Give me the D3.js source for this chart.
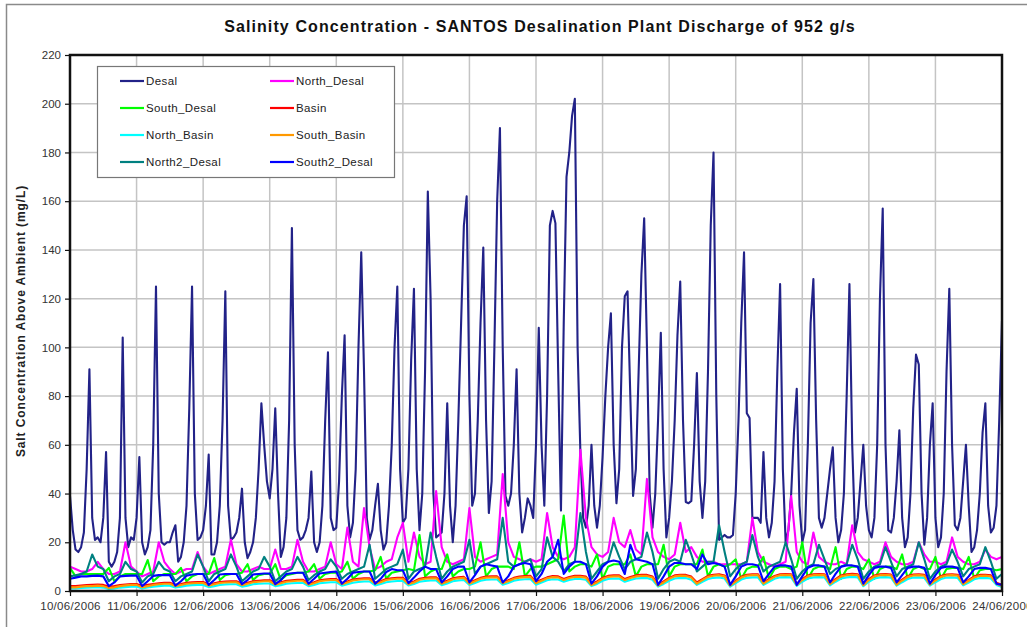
<!DOCTYPE html>
<html>
<head>
<meta charset="utf-8">
<script src="https://cdn.jsdelivr.net/npm/d3@7"></script>
<style>
  body { margin: 0; background: #fff; }
  svg { display: block; font-family: "Liberation Sans", Arial, sans-serif; }
</style>
</head>
<body>
<svg id="chart" width="1027" height="627"></svg>
<script>
// Salinity above ambient (mg/L) at each monitoring point, SANTOS desal plant discharge 952 g/s.
const chartTitle = "Salinity Concentration - SANTOS Desalination Plant Discharge of 952 g/s";
const yAxisTitle = "Salt Concentration Above Ambient (mg/L)";
const startTime = "2006-06-10T00:00:00Z";

const seriesNames = ["Desal", "North_Desal", "South_Desal", "Basin", "North_Basin", "South_Basin", "North2_Desal", "South2_Desal"];
const seriesColors = ["#222288", "#ff00ff", "#00ff00", "#ff0000", "#00ffff", "#ff9900", "#008080", "#0000ff"];
// sampling interval (hours) of each record
const seriesStepHours = [1, 2, 2, 2, 2, 2, 2, 2];

// Desal: hourly, one row per day
const desal = [
  39,25,17,16,18,24,50,91,30,21,22,20,30,57,12,10,12,16,30,104,30,18,22,21,
  30,55,20,15,18,25,60,125,40,20,19,20,20,24,27,12,14,20,35,75,125,40,21,22,
  25,35,56,15,15,20,35,70,123,35,21,22,24,30,42,20,13.5,16,20,30,50,77,60,45,
  38,50,75,40,14,18,30,70,149,60,25,21,22,25,30,49,20,16,20,35,70,98,30,25,
  26,45,80,105,35,22,28,50,100,139,90,30,21,25,35,44,25,17,20,35,60,100,125,50,
  28,30,50,95,124,50,25,40,90,164,120,40,22,23,24,40,77,35,20,35,70,110,150,162,
  80,35,40,70,110,141,70,32,45,100,160,190,100,39,35,40,60,91,40,24,30,38,35,30,
  60,108,60,35,80,150,156,151,90,33,110,170,180,195,202,100,57,30,26,35,60,35,26,35,
  55,80,100,114,60,36,50,100,121,123,80,39,50,90,130,153,100,40,26,40,70,106,50,22,
  30,45,70,105,127,70,36.5,36,37,60,89.5,45,30,45,90,150,180,80,21,22,23,22,22,23,
  40,70,110,139,73,71,30,30,30,28,57,30,22,28,45,90,126,50,20,25,40,65,83,35,
  20,25,60,110,128,70,30,26,30,40,50,59,30,20,25,40,80,126,60,24,30,45,60,35,
  25,22,30,60,120,157,60,25,24,30,45,66,30,18,22,40,75,97,93,40,19,30,60,77,
  30,18,22,40,90,124,60,27,25,30,45,60,35,16,18,25,40,65,77,35,24,26,35,70,
  111
];

// Remaining points: 2-hourly, one row per day
const northDesal = [
  10,9,8,8,9,12,9,7,7,8,20,10,
  8,6,7,8,20,12,9,7,8,9,9,16,
  10,7,8,9,10,21,11,8,8,9,10,9,
  9,17,9,9,10,21,12,8,8,9,10,20,
  11,9,26,12,10,34,18,9,10,12,13,22,
  28,12,24,14,11,12,41,18,12,11,12,13,
  34,14,12,13,14,15,48,20,14,13,12,13,
  12,13,32,18,14,13,14,18,58,30,18,15,
  14,16,30,20,18,25,17,15,46,22,16,14,
  13,15,28,16,18,14,12,12,12,11,11,11,
  11,11,12,30,16,12,11,10,11,12,39,16,
  12,11,24,14,12,11,11,12,11,27,16,13,
  12,11,12,20,14,12,11,11,12,20,15,12,
  12,11,12,22,14,12,11,11,12,17,14,13,
  14
];

const southDesal = [
  9.5,6,7,7,7,7,7,9.5,4,6,7,7,
  7,7,12.7,4,6,7,7,7,9.5,4,6,7,
  7,7,13.5,4.5,6.5,7,7,7.5,11,4.5,6.5,7,
  7,11,4.5,6.5,7,7.5,7.5,8,11,5,7,7.5,
  7.5,8,12,5,7,8,8,8.5,14,5,7.5,8,
  8.5,9,8.5,23,6,8,9,9,15,6,8,9,
  9,10,20,6,9,10,10,10,9,20,6,9,
  10,10,11,12,13,31,8,10,11,11,10,15,
  5,10,11,11,11,15,6,10,11,11,11,19,
  6,10,11,11,11,11,17,6,10,11,10,11,
  13,5,9,10,10,14,5,9,10,10,9,10,
  20,5,9,10,10,9,18,5,9,10,10,9,
  13,5,9,10,10,9,15,5,9,10,9,9,
  14,5,9,9.5,9.5,9,14,5,8.5,9,9,8.5,
  9
];

const basin = [
  2,2,2.2,2.4,2.5,2.6,2.5,1.8,2,2.4,2.7,2.9,
  2.9,2.1,2.5,2.9,3.2,3.4,3.4,2.5,2.9,3.4,3.6,3.7,
  3.7,2.7,3.2,3.7,3.9,4,4,2.9,3.4,4,4.2,4.4,
  4.4,3.1,3.6,4.2,4.4,4.6,4.6,3.1,3.6,4.4,4.7,4.9,
  4.9,3.3,3.9,4.7,5,5.2,5.2,3.5,4,4.9,5.2,5.4,
  5.4,3.3,3.9,5,5.4,5.6,5.6,3.5,4.2,5.2,5.6,5.8,
  3.5,4.4,5.4,5.9,6,6,3.7,4.4,5.4,5.9,6.1,6.2,
  3.7,4.6,5.6,6.1,6,4.9,5.7,6.2,6.2,5.9,2.9,3.9,
  5.4,6.2,6.4,6.4,4.9,5.7,6.4,6.6,6.6,5.9,2.7,3.9,
  5.4,6.4,6.7,6.6,5.9,3.5,4.9,6.2,6.7,6.9,6.4,2.7,
  4.2,5.9,6.7,6.9,6.9,3.5,4.9,6.2,6.9,7,6.9,3,
  4.9,6.4,6.9,7,6.9,3.3,4.9,6.4,6.9,7.1,6.9,2.9,
  4.9,6.4,6.9,7,6.8,3.1,4.7,6.2,6.8,6.9,6.7,3.1,
  4.7,6.2,6.8,6.9,6.7,3.3,4.6,6,6.6,6.7,6.4,3.4,
  2.5
];

const northBasin = [
  1,1,1.2,1.4,1.5,1.6,1.4,0.8,1,1.4,1.6,1.8,
  1.8,1,1.4,1.8,2,2.2,2.2,1.4,1.8,2.2,2.4,2.5,
  2.5,1.6,2,2.5,2.7,2.8,2.8,1.8,2.2,2.8,3,3.1,
  3.1,2,2.4,3,3.2,3.3,3.3,2,2.5,3.2,3.4,3.6,
  3.6,2.2,2.8,3.4,3.7,3.9,3.9,2.3,2.9,3.6,3.9,4.1,
  4.1,2.3,2.9,3.8,4.1,4.3,4.3,2.4,3.1,4,4.3,4.5,
  2.5,3.3,4.2,4.6,4.7,4.7,2.6,3.3,4.2,4.6,4.8,4.9,
  2.6,3.5,4.4,4.8,4.7,3.8,4.5,4.9,4.9,4.6,2,2.9,
  4.2,4.9,5.1,5.1,3.8,4.5,5.1,5.3,5.3,4.6,1.8,2.9,
  4.2,5.1,5.4,5.3,4.6,2.5,3.8,4.9,5.4,5.6,5.1,1.8,
  3.2,4.7,5.4,5.6,5.6,2.5,3.8,5,5.6,5.7,5.6,2.1,
  3.8,5.1,5.6,5.7,5.6,2.3,3.8,5.1,5.6,5.8,5.6,2,
  3.8,5.1,5.6,5.7,5.5,2.2,3.6,4.9,5.5,5.6,5.4,2.2,
  3.6,4.9,5.5,5.6,5.4,2.3,3.5,4.8,5.3,5.4,5.1,2.5,
  1.6
];

const southBasin = [
  1.5,1.5,1.8,2,2,2.2,2,1.2,1.5,2,2.3,2.5,
  2.5,1.5,2,2.5,2.8,3,3,2,2.5,3,3.2,3.3,
  3.3,2.2,2.8,3.3,3.5,3.6,3.6,2.4,3,3.6,3.8,4,
  4,2.6,3.2,3.8,4,4.2,4.2,2.6,3.2,4,4.3,4.5,
  4.5,2.8,3.5,4.3,4.6,4.8,4.8,3,3.6,4.5,4.8,5,
  5,2.8,3.5,4.6,5,5.2,5.2,3,3.8,4.8,5.2,5.4,
  3,4,5,5.5,5.6,5.6,3.2,4,5,5.5,5.7,5.8,
  3.2,4.2,5.2,5.7,5.6,4.5,5.3,5.8,5.8,5.5,2.4,3.5,
  5,5.8,6,6,4.5,5.3,6,6.2,6.2,5.5,2.2,3.5,
  5,6,6.3,6.2,5.5,3,4.5,5.8,6.3,6.5,6,2.2,
  3.8,5.5,6.3,6.5,6.5,3,4.5,5.8,6.5,6.6,6.5,2.5,
  4.5,6,6.5,6.6,6.5,2.8,4.5,6,6.5,6.7,6.5,2.4,
  4.5,6,6.5,6.6,6.4,2.6,4.3,5.8,6.4,6.5,6.3,2.6,
  4.3,5.8,6.4,6.5,6.3,2.8,4.2,5.6,6.2,6.3,6,3,
  2
];

const north2Desal = [
  6,6.5,7,8,15,10,9,4,6,7,12,9,
  8,3.5,6,7,12,9,8,4,6,7,8,15,
  10,4,7,8,9,15,10,4,6,8,9,14,
  10,4,6,8,9,14,10,4.5,6.5,8,9,13,
  10,5,7,8,9,10,19,5,7,9,10,11,
  17,5,8,9,10,24,14,5,8,10,11,12,
  21,7,10,11,12,13,30,12,10,11,12,13,
  6,9,22,14,12,8,11,12,32,16,5,8,
  11,12,20,14,9,12,13,14,24,16,5,9,
  12,13,12,21,15,8,10,12,12,27,16,6,
  9,11,12,23,14,8,10,11,12,20,13,5,
  8,10,11,19,13,7,9,10,11,19,13,5,
  8,10,11,18,12,6,9,10,11,20,13,5,
  8,10,11,17,12,6,9,10,11,18,12,5,
  7
];

const south2Desal = [
  5,5.5,6,6,6.2,6.3,6,2,3.5,6,6.2,6.3,
  6.3,2,4,6.2,6.5,6.5,6.5,2.2,4,6.3,6.8,7,
  7,2.5,4.5,6.8,7,7,7,2.8,4.5,6.8,7,7.2,
  7.2,2.8,4.5,7,7.3,7.5,7.5,3,5,7.2,7.5,7.8,
  8,3,5,7.5,7.8,8,8,3,5,7.8,9,8.5,
  8.5,3.2,5.5,8,10,9,9,3.5,6,9,10,10,
  3.5,6.5,10,11,10.5,10,3.5,6,10,11,11.5,11,
  4,7,12,14,21,7,10,12,12,11,3,6,
  10,12,12.5,12,7,19,13,12.5,12,11,2.5,6,
  10,11.5,11.5,11,11,9,15,11,11.5,11,10,2.5,
  6,10,11,11,10.5,4,7,10,10.5,10.5,10,2.5,
  6,9.5,10.5,10.5,10,3.5,7,10,10.5,10.5,10,3,
  6.5,9.5,10,10,9.5,3.5,6.5,9.5,10,10,9.5,3,
  6.5,9.5,10,10,9.5,3.5,6,9,9.5,9.5,9,3,
  2.5
];

const seriesValues = [desal, northDesal, southDesal, basin, northBasin, southBasin, north2Desal, south2Desal];

const dayTicks = ["2006-06-10","2006-06-11","2006-06-12","2006-06-13","2006-06-14","2006-06-15","2006-06-16","2006-06-17",
                  "2006-06-18","2006-06-19","2006-06-20","2006-06-21","2006-06-22","2006-06-23","2006-06-24"];
const yTicks = [0, 20, 40, 60, 80, 100, 120, 140, 160, 180, 200, 220];

// ---- drawing ----
const svg = d3.select("#chart");
const plot = { left: 70, right: 1002, top: 55, bottom: 591 };
const t0 = new Date(startTime);
const hourMs = 3600 * 1000;

const x = d3.scaleUtc()
  .domain([new Date(dayTicks[0] + "T00:00:00Z"), new Date(dayTicks[dayTicks.length - 1] + "T00:00:00Z")])
  .range([plot.left, plot.right]);
const y = d3.scaleLinear().domain([0, 220]).range([plot.bottom, plot.top]);

// outer chart frame
svg.append("rect")
  .attr("x", 6.5).attr("y", 4.5).attr("width", 1060).attr("height", 660)
  .attr("fill", "#fff").attr("stroke", "#8a8a8a").attr("stroke-width", 1.5);

// gridlines
const grid = svg.append("g");
grid.selectAll("line.h").data(yTicks).join("line")
  .attr("x1", plot.left).attr("x2", plot.right)
  .attr("y1", d => y(d)).attr("y2", d => y(d))
  .attr("stroke", "#c4c4c4").attr("stroke-width", 1.5);
grid.selectAll("line.v").data(dayTicks).join("line")
  .attr("x1", d => x(new Date(d + "T00:00:00Z"))).attr("x2", d => x(new Date(d + "T00:00:00Z")))
  .attr("y1", plot.top).attr("y2", plot.bottom)
  .attr("stroke", "#c4c4c4").attr("stroke-width", 1.5);

// series lines
svg.append("clipPath").attr("id", "plotClip").append("rect")
  .attr("x", plot.left).attr("y", plot.top)
  .attr("width", plot.right - plot.left).attr("height", plot.bottom - plot.top);

const line = d3.line().x(d => x(d.t)).y(d => y(d.v));
const lines = svg.append("g").attr("clip-path", "url(#plotClip)");
seriesNames.forEach((name, k) => {
  const pts = seriesValues[k].map((v, i) => ({ t: new Date(t0.getTime() + i * seriesStepHours[k] * hourMs), v }));
  lines.append("path")
    .datum(pts)
    .attr("fill", "none")
    .attr("stroke", seriesColors[k])
    .attr("stroke-width", k === 0 ? 2.1 : 2.1)
    .attr("stroke-linejoin", "round")
    .attr("d", line);
});

// plot area border
svg.append("rect")
  .attr("x", plot.left).attr("y", plot.top)
  .attr("width", plot.right - plot.left).attr("height", plot.bottom - plot.top)
  .attr("fill", "none").attr("stroke", "#111").attr("stroke-width", 2.5);

// axes
const yAxis = svg.append("g").attr("transform", `translate(${plot.left},0)`)
  .call(d3.axisLeft(y).tickValues(yTicks).tickSize(5).tickPadding(4));
const xAxis = svg.append("g").attr("transform", `translate(0,${plot.bottom})`)
  .call(d3.axisBottom(x).tickValues(dayTicks.map(d => new Date(d + "T00:00:00Z")))
    .tickFormat(d3.utcFormat("%d/%m/%Y")).tickSize(5).tickPadding(6));
[yAxis, xAxis].forEach(a => {
  a.select(".domain").remove();
  a.selectAll(".tick line").attr("stroke", "#111").attr("stroke-width", 1.2);
  a.selectAll(".tick text").attr("fill", "#333").style("font-size", "11.5px")
    .style("font-family", "'Liberation Sans', Arial, sans-serif");
});
xAxis.selectAll(".tick text").style("letter-spacing", "0.3px");

// titles
svg.append("text")
  .attr("x", 540).attr("y", 32).attr("text-anchor", "middle")
  .style("font-size", "16px").style("font-weight", "bold").style("letter-spacing", "1.1px")
  .attr("fill", "#111")
  .text(chartTitle);
svg.append("text")
  .attr("transform", `translate(25,${(plot.top + plot.bottom) / 2 - 2}) rotate(-90)`)
  .attr("text-anchor", "middle")
  .style("font-size", "12px").style("font-weight", "bold").style("letter-spacing", "0.9px")
  .attr("fill", "#222")
  .text(yAxisTitle);

// legend
const legend = svg.append("g");
legend.append("rect")
  .attr("x", 97.5).attr("y", 66.5).attr("width", 297).attr("height", 111)
  .attr("fill", "#fff").attr("stroke", "#777").attr("stroke-width", 1.2);
seriesNames.forEach((name, k) => {
  const col = k % 2, row = Math.floor(k / 2);
  const lx = 120 + col * 150, ly = 81 + row * 27;
  legend.append("line")
    .attr("x1", lx).attr("x2", lx + 24).attr("y1", ly).attr("y2", ly)
    .attr("stroke", seriesColors[k]).attr("stroke-width", 2.2);
  legend.append("text")
    .attr("x", lx + 26).attr("y", ly + 4)
    .style("font-size", "11.5px").style("letter-spacing", "0.4px").attr("fill", "#222")
    .text(name);
});
</script>
</body>
</html>
